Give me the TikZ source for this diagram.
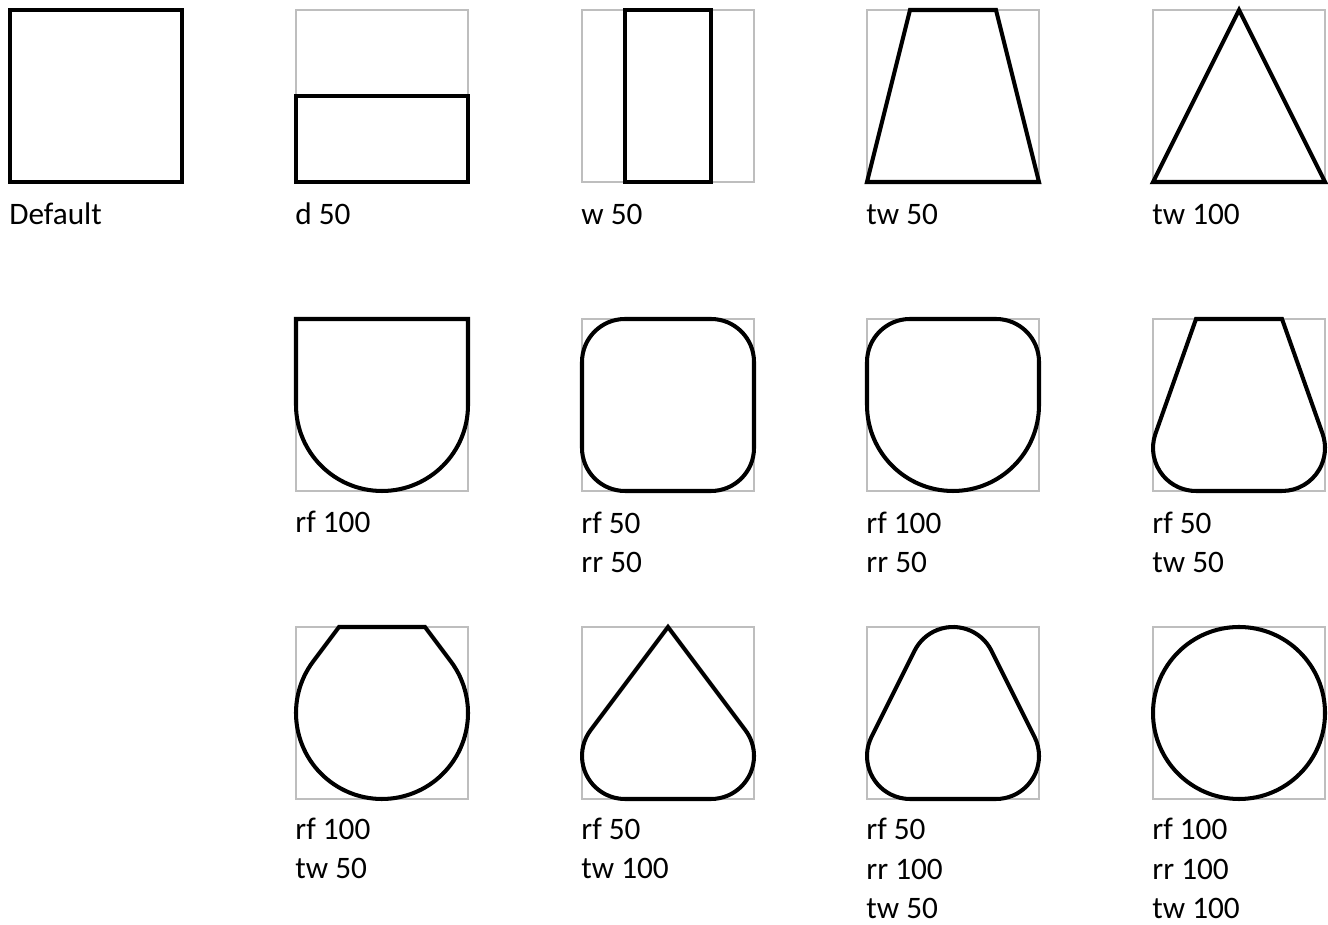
\documentclass[tikz,border=0pt]{standalone}
\usepackage{fontspec}
\setmainfont{Carlito}
\definecolor{framegray}{RGB}{190,190,190}
\tikzset{
 sh outline/.style={line width=2.3pt,black},
 sh frame/.style={line width=1.1pt,framegray},
 sh label/.style={anchor=base west,inner sep=0pt,align=left,
                  font=\fontsize{17.8}{22.76}\selectfont}
}
\begin{document}
\begin{tikzpicture}[x=0.02cm,y=0.02cm]
 \useasboundingbox (0,0) rectangle (1328,925);
 % lower left corners of the boxes
 \coordinate (b1) at (10,743);
 \coordinate (b2) at (296,743);
 \coordinate (b3) at (582,743);
 \coordinate (b4) at (867,743);
 \coordinate (b5) at (1153,743);
 \coordinate (b6) at (296,434);
 \coordinate (b7) at (582,434);
 \coordinate (b8) at (867,434);
 \coordinate (b9) at (1153,434);
 \coordinate (b10) at (296,126);
 \coordinate (b11) at (582,126);
 \coordinate (b12) at (867,126);
 \coordinate (b13) at (1153,126);
 \foreach \b in {2,...,13} \draw[sh frame] (b\b) rectangle ++(172,172);

 % first row
 \draw[sh outline,shift={(b1)}] (0,0) rectangle (172,172);
 \draw[sh outline,shift={(b2)}] (0,0) rectangle (172,86);
 \draw[sh outline,shift={(b3)}] (43,0) rectangle (129,172);
 \draw[sh outline,shift={(b4)}] (0,0)--(172,0)--(129,172)--(43,172)--cycle;
 \draw[sh outline,shift={(b5)}] (0,0)--(172,0)--(86,172)--cycle;

 % second row
 \draw[sh outline,shift={(b6)}] (0,172)--(0,86)
   arc[start angle=180,end angle=360,radius=86]--(172,172)--cycle;
 \draw[sh outline,shift={(b7)}] (0,43)
   arc[start angle=180,end angle=270,radius=43]--(129,0)
   arc[start angle=270,end angle=360,radius=43]--(172,129)
   arc[start angle=0,end angle=90,radius=43]--(43,172)
   arc[start angle=90,end angle=180,radius=43]--cycle;
 \draw[sh outline,shift={(b8)}] (0,86)
   arc[start angle=180,end angle=360,radius=86]--(172,129)
   arc[start angle=0,end angle=90,radius=43]--(43,172)
   arc[start angle=90,end angle=180,radius=43]--cycle;
 \draw[sh outline,shift={(b9)}] (43,172)--(2.46,57.33)
   arc[start angle=160.53,end angle=270,radius=43]--(129,0)
   arc[start angle=270,end angle=379.47,radius=43]--(129,172)--cycle;

 % third row
 \draw[sh outline,shift={(b10)}] (43,172)--(17.2,137.6)
   arc[start angle=143.13,end angle=396.87,radius=86]--(129,172)--cycle;
 \draw[sh outline,shift={(b11)}] (86,172)--(8.6,68.8)
   arc[start angle=143.13,end angle=270,radius=43]--(129,0)
   arc[start angle=270,end angle=396.87,radius=43]--cycle;
 \draw[sh outline,shift={(b12)}] (47.54,148.23)--(4.54,62.23)
   arc[start angle=153.43,end angle=270,radius=43]--(129,0)
   arc[start angle=270,end angle=386.57,radius=43]--(124.46,148.23)
   arc[start angle=26.57,end angle=153.43,radius=43]--cycle;
 \draw[sh outline,shift={(b13)}] (86,86) circle[radius=86];

 % labels (placed at the baseline of their last line)
 \node[sh label] (l1) at (9,700) {Default};
 \node[sh label] (l2) at (295,700) {d 50};
 \node[sh label] (l3) at (581,700) {w 50};
 \node[sh label] (l4) at (866,700) {tw 50};
 \node[sh label] (l5) at (1152,700) {tw 100};
 \node[sh label] (l6) at (295,392) {rf 100};
 \node[sh label] (l7) at (581,352) {rf 50\\rr 50};
 \node[sh label] (l8) at (866,352) {rf 100\\rr 50};
 \node[sh label] (l9) at (1152,352) {rf 50\\tw 50};
 \node[sh label] (l10) at (295,46) {rf 100\\tw 50};
 \node[sh label] (l11) at (581,46) {rf 50\\tw 100};
 \node[sh label] (l12) at (866,6) {rf 50\\rr 100\\tw 50};
 \node[sh label] (l13) at (1152,6) {rf 100\\rr 100\\tw 100};
\end{tikzpicture}
\end{document}
